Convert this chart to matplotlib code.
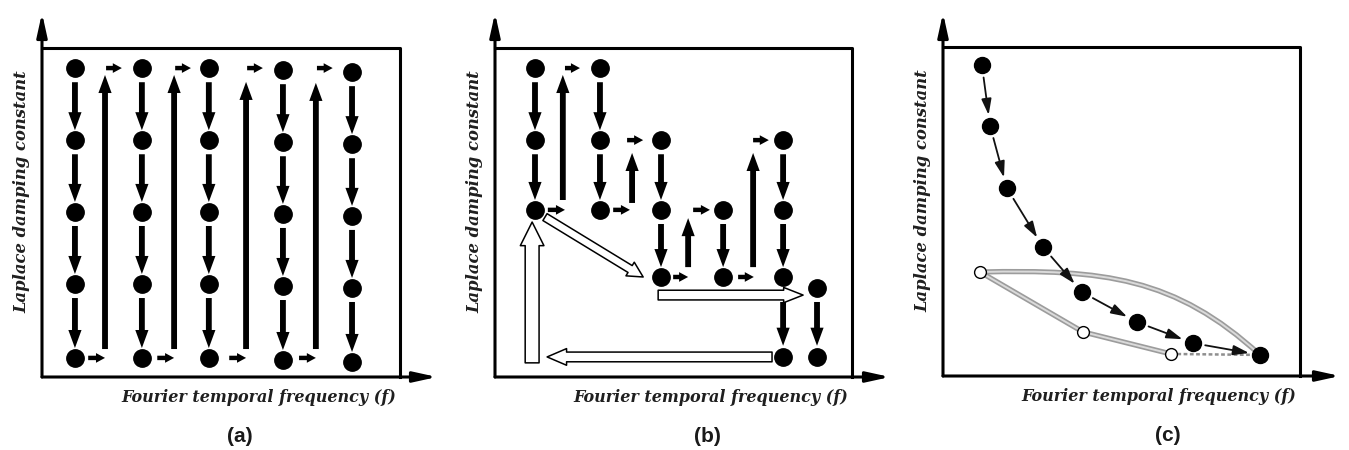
import matplotlib.pyplot as plt
from matplotlib.patches import FancyArrowPatch, PathPatch
from matplotlib.path import Path

# ---- panel (a): raster scan over the (f, sigma) grid ----
a_freq = [0.92, 2.79, 4.66, 6.73, 8.66]
a_damp = [9.39, 7.20, 5.02, 2.83, 0.58]
a_tilt = [0.0, 0.0, 0.0, -0.06, -0.12]
a_return_freq = [1.76, 3.69, 5.70, 7.65]
a_return_top = [9.18, 9.18, 8.97, 8.94]

# ---- panel (b): adaptive scan ----
b_freq = [1.12, 1.12, 1.12, 2.94, 2.94, 2.94, 4.65, 4.65, 4.65,
          6.39, 6.39, 8.07, 8.07, 8.07, 8.07, 9.02, 9.02]
b_damp = [9.39, 7.20, 5.08, 9.39, 7.20, 5.08, 7.20, 5.08, 3.04,
          5.08, 3.04, 7.20, 5.08, 3.04, 0.61, 2.71, 0.61]
# (f, sigma_start, sigma_end)
b_down = [(1.12, 8.96, 7.50), (1.12, 6.77, 5.38),
          (2.94, 8.96, 7.50), (2.94, 6.77, 5.38),
          (4.65, 6.77, 5.38), (4.65, 4.65, 3.34),
          (6.39, 4.65, 3.34),
          (8.07, 6.77, 5.38), (8.07, 4.65, 3.34), (8.07, 2.28, 0.95),
          (9.02, 2.28, 0.95)]
b_up = [(1.90, 5.38, 9.18), (3.84, 5.29, 6.81), (5.41, 3.34, 4.83), (7.23, 3.34, 6.81)]
# (f_start, f_end, sigma)
b_hops = [(1.96, 2.38, 9.39), (1.48, 1.96, 5.08), (3.31, 3.78, 5.08), (3.70, 4.15, 7.20),
          (4.99, 5.41, 3.04), (5.55, 6.02, 5.08), (6.81, 7.25, 3.04), (7.23, 7.67, 7.20)]
b_jumps = [((1.04, 0.43), (1.04, 4.71)),
           ((1.40, 4.86), (4.15, 3.04)),
           ((4.57, 2.49), (8.63, 2.49)),
           ((7.76, 0.61), (1.46, 0.61))]

# ---- panel (c): gradient descent path ----
c_path_freq = [1.09, 1.32, 1.79, 2.80, 3.89, 5.43, 7.00, 8.88]
c_path_damp = [9.45, 7.60, 5.71, 3.92, 2.55, 1.64, 1.00, 0.64]
c_open_freq = [1.04, 3.92, 6.39]
c_open_damp = [3.16, 1.34, 0.67]
c_curve = [(1.04, 3.16), (4.5, 3.25), (6.5, 3.0), (8.88, 0.64)]

W, H = 1349, 450
SERIF = dict(family='DejaVu Serif', weight='bold', style='italic', color='#1f1f1f')

fig = plt.figure(figsize=(W / 100, H / 100), dpi=100)


def panel(left, right, top, bottom, x_end, y_end, tag, tag_x):
    sx = (right - left) / 10
    sy = (bottom - top) / 10
    ax = fig.add_axes([left / W, (H - bottom) / H, (x_end - left) / W, (bottom - y_end) / H])
    xmax, ymax = (x_end - left) / sx, (bottom - y_end) / sy
    ax.set_xlim(0, xmax)
    ax.set_ylim(0, ymax)
    ax.axis('off')
    ax.plot([0, 10, 10], [10, 10, 0], color='black', lw=2.2, clip_on=False)
    for tip in [(xmax, 0), (0, ymax)]:
        ax.annotate('', xy=tip, xytext=(0, 0), annotation_clip=False,
                    arrowprops=dict(arrowstyle='-|>,head_length=1.0,head_width=0.22',
                                    mutation_scale=14, lw=2.2, color='black',
                                    shrinkA=0, shrinkB=0))
    ax.text(9.9, -0.62, 'Fourier temporal frequency (f)', ha='right', va='center',
            fontsize=11.5, **SERIF)
    ax.text(-0.56, 5.62, 'Laplace damping constant', rotation=90, ha='center',
            va='center', fontsize=11.8, **SERIF)
    ax.text(tag_x, -1.8, tag, ha='center', va='center', fontsize=15,
            family='Liberation Sans', weight='bold', color='#1a1a1a')
    return ax


def arrow(ax, p0, p1, tail, head_w, head_l, face='black', edge='black', lw=0.0):
    style = f'simple,tail_width={tail},head_width={head_w},head_length={head_l}'
    ax.add_patch(FancyArrowPatch(p0, p1, arrowstyle=style, mutation_scale=1,
                                 facecolor=face, edgecolor=edge, lw=lw,
                                 shrinkA=0, shrinkB=0, clip_on=False, zorder=3))


def down(ax, f, s0, s1):
    arrow(ax, (f, s0), (f, s1), 4.2, 9.5, 13)


def hop(ax, f0, f1, s):
    arrow(ax, (f0, s), (f1, s), 3.2, 7.0, 6.5)


# (a)
ax = panel(42, 400, 48, 377, 437, 13, '(a)', 5.53)
for f, t in zip(a_freq, a_tilt):
    ax.plot([f] * len(a_damp), [d + t for d in a_damp], 'o', ms=12.5, color='black',
            zorder=5, clip_on=False)
    for s0, s1 in zip(a_damp[:-1], a_damp[1:]):
        down(ax, f, s0 + t - 0.43, s1 + t + 0.30)
for r, top in zip(a_return_freq, a_return_top):
    hop(ax, r - 0.47, r, a_damp[-1])
    arrow(ax, (r, 0.85), (r, top), 4.2, 9.5, 13)
    hop(ax, r + 0.03, r + 0.47, a_damp[0])

# (b)
ax = panel(495, 852, 48, 377, 890, 13, '(b)', 5.94)
ax.plot(b_freq, b_damp, 'o', ms=12.5, color='black', zorder=5, clip_on=False)
for f, s0, s1 in b_down:
    down(ax, f, s0, s1)
for f, s0, s1 in b_up:
    arrow(ax, (f, s0), (f, s1), 4.2, 9.5, 13)
for f0, f1, s in b_hops:
    hop(ax, f0, f1, s)
jump_sizes = [(10, 17, 17), (5.8, 11.5, 11), (7, 11, 14), (7, 12, 14)]
for (p0, p1), (tw, hw, hl) in zip(b_jumps, jump_sizes):
    arrow(ax, p0, p1, tw, hw, hl, face='white', edge='black', lw=1.1)

# (c)
ax = panel(943, 1300, 47, 376, 1340, 13, '(c)', 6.30)
curve = Path(c_curve, [Path.MOVETO, Path.CURVE4, Path.CURVE4, Path.CURVE4])
for col, lw in [('#9c9c9c', 3.8), ('#dadada', 1.4)]:
    ax.add_patch(PathPatch(curve, facecolor='none', edgecolor=col, lw=lw, zorder=2))
    ax.plot(c_open_freq, c_open_damp, color=col, lw=lw, zorder=2)
ax.plot([c_open_freq[-1], c_path_freq[-1]], [c_open_damp[-1], c_path_damp[-1]],
        color='#8f8f8f', lw=1.8, ls=(0, (1.5, 1)), zorder=2)
ax.plot(c_open_freq, c_open_damp, 'o', ms=8.5, mfc='white', mec='black', mew=1.0, zorder=4)
for p0, p1 in zip(zip(c_path_freq[:-1], c_path_damp[:-1]), zip(c_path_freq[1:], c_path_damp[1:])):
    ax.add_patch(FancyArrowPatch(p0, p1, arrowstyle='-|>,head_length=0.8,head_width=0.25',
                                 mutation_scale=12, color='#111111', lw=1.3,
                                 shrinkA=9, shrinkB=8, zorder=3))
ax.plot(c_path_freq, c_path_damp, 'o', ms=11.5, color='black', zorder=5, clip_on=False)

fig.savefig('out.png', dpi=100)
